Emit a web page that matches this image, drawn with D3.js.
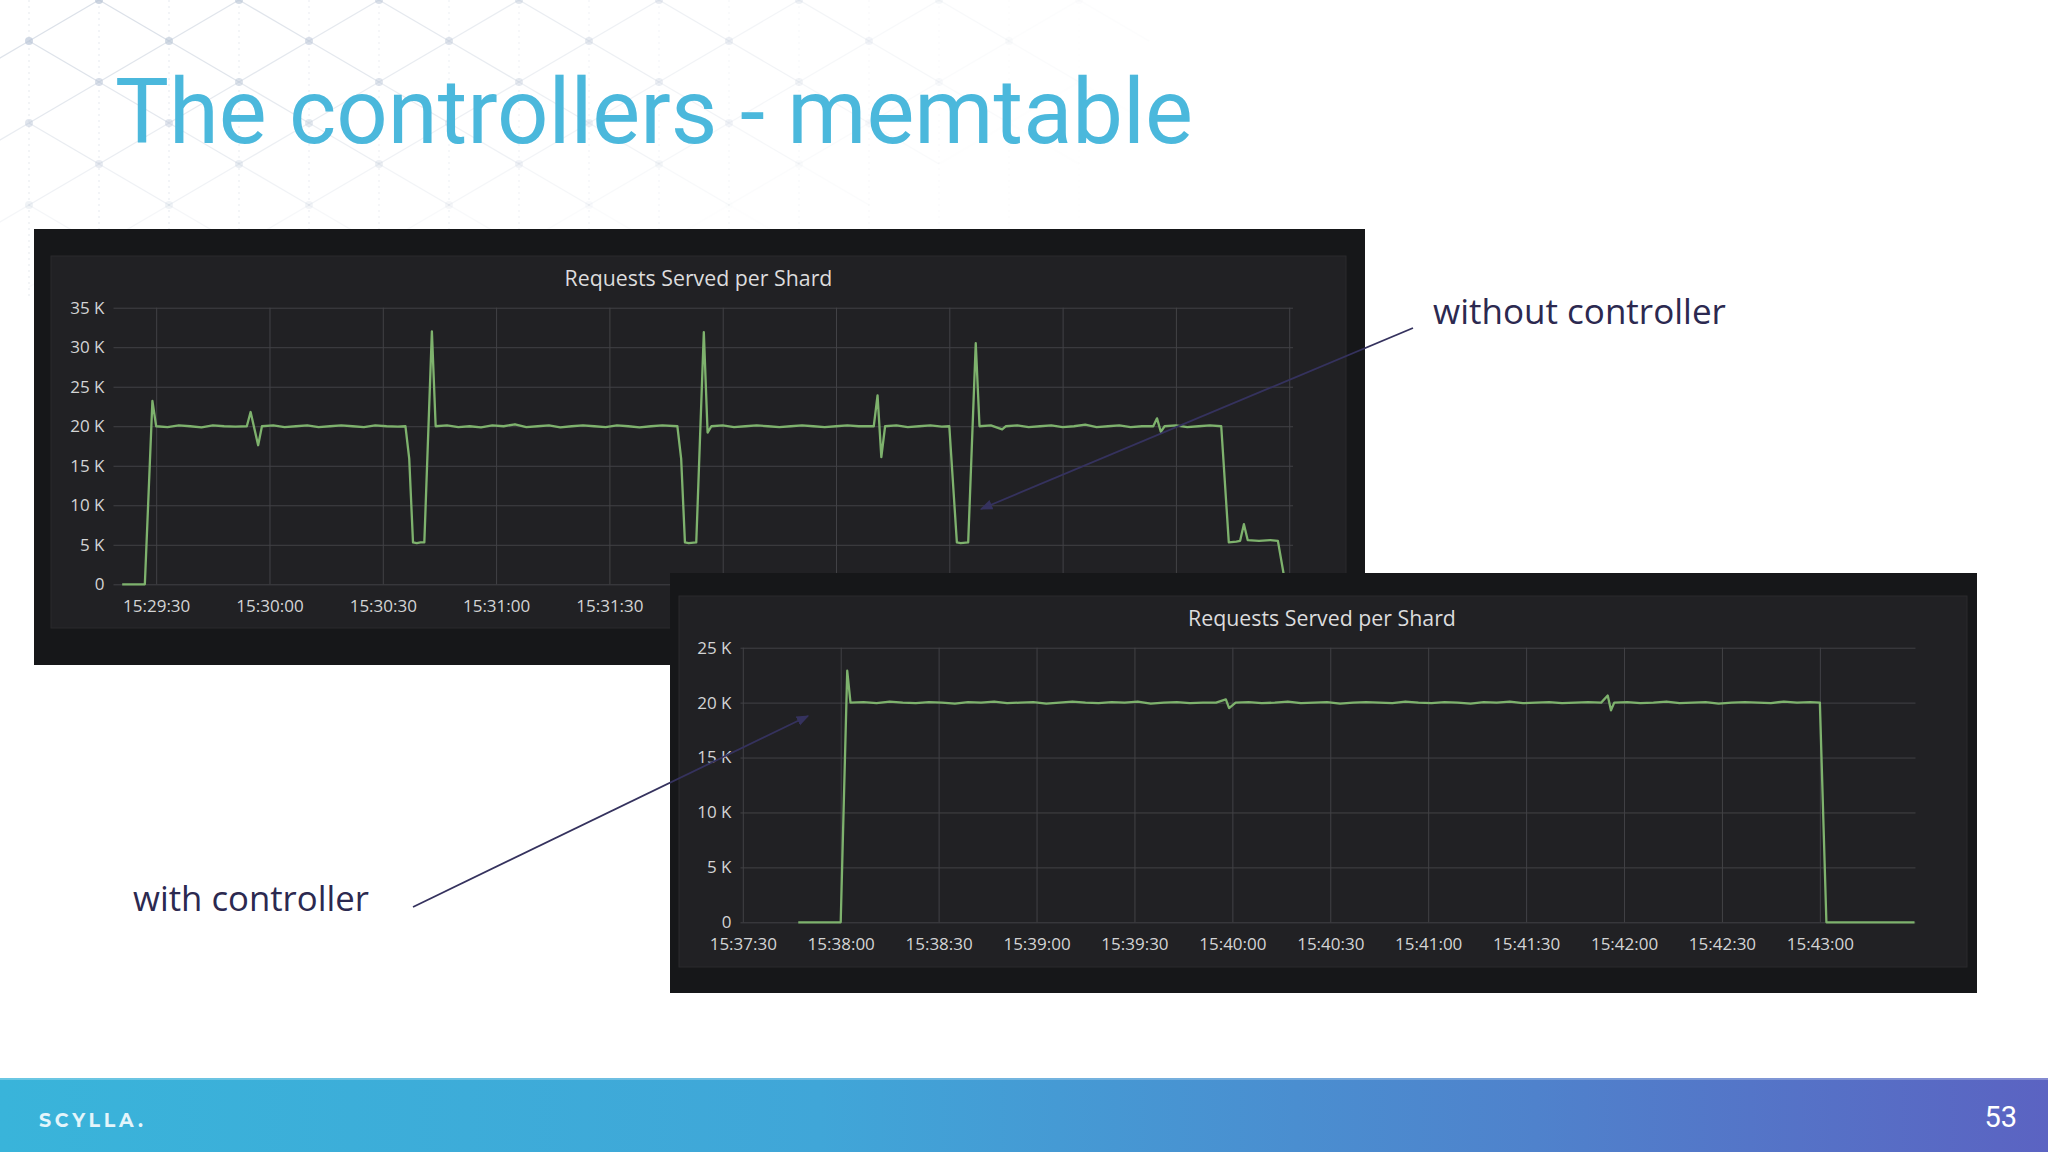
<!DOCTYPE html>
<html><head><meta charset="utf-8">
<script src="https://cdn.jsdelivr.net/npm/d3@7"></script>
<style>html,body{margin:0;padding:0;background:#fff;overflow:hidden}</style>
</head><body><svg id="c" width="2048" height="1152"></svg>
<script>
// ---------- text ----------
const slideTitle = "The controllers - memtable";
const panelTitle = "Requests Served per Shard";
const labelWithout = "without controller";
const labelWith = "with controller";
const pageNumber = "53";
const brand = "SCYLLA.";

// ---------- data: top chart (without controller) ----------
const topStart = "15:29:30"; // seconds below are offsets from this time
const topSamples = [
[-9,0],[-3,0],[-1,23200],[0,20000],[3,19900],[6,20100],[9,20000],[12,19850],[15,20100],[18,20000],[21,19950],[24,20000],
[25,21800],[27,17600],[28,20000],
[31,20100],[34,19900],[37,20000],[40,20100],[43,19900],[46,20000],[49,20100],[52,20000],[55,19900],[58,20100],[61,20000],[64,19950],[66,20000],
[67,15900],[68,5300],[69,5200],[70,5300],[71,5300],
[73,32000],[74,20000],
[77,20100],[80,19900],[83,20000],[86,19850],[89,20100],[92,20000],[95,20250],[98,19900],[101,20000],[104,20100],[107,19850],[110,20000],[113,20100],[116,20000],[119,19900],[122,20100],[125,20000],[128,19850],[131,20000],[134,20100],[138,20000],
[139,15900],[140,5300],[141,5200],[143,5300],
[145,31900],[146,19200],[147,20000],
[150,20100],[153,19900],[156,20000],[159,20100],[162,20000],[165,19900],[168,20000],[171,20100],[174,20000],[177,19900],[180,20000],[183,20100],[186,20000],[190,20000],
[191,23900],[192,16100],[193,20000],
[196,20100],[199,19900],[202,20000],[205,20100],[208,19950],[210,20000],
[212,5300],[213,5200],[215,5300],
[217,30500],[218,20000],
[221,20100],[224,19600],[225,20000],[228,20100],[231,19900],[234,20000],[237,20100],[240,19900],[243,20000],[246,20200],[249,19900],[252,20000],[255,20100],[258,19900],[261,20000],[264,20000],
[265,21000],[266,19300],[267,20000],
[270,20100],[273,19900],[276,20000],[279,20100],[282,20000],
[284,5300],[286,5400],[287,5500],[288,7600],[289,5600],[292,5500],[295,5600],[297,5500],
[299,0],[301,0]
];
const topYTicks = [0,5000,10000,15000,20000,25000,30000,35000];
// grid lines at every 30 s; only the first five labels are visible (the rest lie under the second panel)
const topXTicks = ["15:29:30","15:30:00","15:30:30","15:31:00","15:31:30","15:32:00","15:32:30","15:33:00","15:33:30","15:34:00","15:34:30"];
const topXLabels = ["15:29:30","15:30:00","15:30:30","15:31:00","15:31:30"];

// ---------- data: bottom chart (with controller) ----------
const bottomStart = "15:38:00";
const bottomSamples = [
[-13,0],[0,0],[2,22900],[3,20000],[7,20050],[11,19950],[15,20100],[19,20000],[23,19950],[27,20050],[31,20000],[35,19900],[39,20050],[43,20000],[47,20100],[51,19950],[55,20000],[59,20050],[63,19900],[67,20000],[71,20100],[75,20000],[79,19950],[83,20050],[87,20000],[91,20100],[95,19900],[99,20000],[103,20050],[107,19950],[111,20000],[115,20000],
[118,20300],[119,19500],[121,20000],
[125,20050],[129,19950],[133,20000],[137,20100],[141,19950],[145,20000],[149,20050],[153,19900],[157,20000],[161,20050],[165,20000],[169,19950],[173,20100],[177,20000],[181,19950],[185,20050],[189,20000],[193,19900],[197,20050],[201,20000],[205,20100],[209,19950],[213,20000],[217,20050],[221,19950],[225,20000],[229,20050],[233,20000],
[235,20650],[236,19300],[237,20000],
[241,20050],[245,19950],[249,20000],[253,20100],[257,19950],[261,20000],[265,20050],[269,19900],[273,20000],[277,20050],[281,20000],[285,19950],[289,20100],[293,20000],[297,20050],[300,20000],
[302,0],[329,0]
];
const bottomYTicks = [0,5000,10000,15000,20000,25000];
const bottomXTicks = ["15:37:30","15:38:00","15:38:30","15:39:00","15:39:30","15:40:00","15:40:30","15:41:00","15:41:30","15:42:00","15:42:30","15:43:00"];
const bottomXLabels = bottomXTicks;

// ---------- helpers ----------
const svg = d3.select("#c");
const parseT = d3.utcParse("%Y-%m-%d %H:%M:%S");
const fmtT = d3.utcFormat("%H:%M:%S");
const T = s => parseT("2018-06-01 " + s);
const addSec = (d, s) => new Date(d.getTime() + s * 1000);
const fmtK = v => v === 0 ? "0" : (v / 1000) + " K";
const fitWidth = (sel, w) => {
  const n = sel.node(); const cur = n.getComputedTextLength();
  const fs = parseFloat(sel.attr("font-size"));
  sel.attr("font-size", fs * w / cur);
};

const defs = svg.append("defs");
const grad = defs.append("linearGradient").attr("id", "foot").attr("x1", 0).attr("x2", 1).attr("y1", 0).attr("y2", 0);
grad.append("stop").attr("offset", 0).attr("stop-color", "#39b4da");
grad.append("stop").attr("offset", 0.4).attr("stop-color", "#40a6d8");
grad.append("stop").attr("offset", 0.75).attr("stop-color", "#4f82cc");
grad.append("stop").attr("offset", 1).attr("stop-color", "#5b63c2");
defs.append("marker").attr("id", "arr").attr("viewBox", "0 0 10 10").attr("refX", 9).attr("refY", 5)
  .attr("markerWidth", 7).attr("markerHeight", 7).attr("orient", "auto-start-reverse")
  .append("path").attr("d", "M0,1 L10,5 L0,9 z").attr("fill", "#35325e");

// ---------- background ----------
svg.append("rect").attr("width", 2048).attr("height", 1152).attr("fill", "#ffffff");
const bg = svg.append("g");
const fade = (x, y) => Math.max(0, 1 - Math.sqrt((x / 1150) ** 2 + (y / 280) ** 2));
for (let j = 0; j <= 8; j++) {
  const y = j * 41;
  const off = j % 2 ? 29 : 99;
  for (let i = 0; i < 9; i++) {
    const x = off + i * 140;
    const a = fade(x, y);
    if (a <= 0) continue;
    [[70, 41], [-70, 41]].forEach(([dx, dy]) => {
      bg.append("line").attr("x1", x).attr("y1", y).attr("x2", x + dx).attr("y2", y + dy)
        .attr("stroke", "#c4cdda").attr("stroke-width", 1.2).attr("opacity", a * 0.65);
    });
    bg.append("circle").attr("cx", x).attr("cy", y).attr("r", 4).attr("fill", "#b6c2d4").attr("opacity", a * 0.75);
  }
}
for (let i = 0; i < 16; i++) {
  const x = 29 + i * 70;
  const a = fade(x, 60);
  if (a <= 0) continue;
  bg.append("line").attr("x1", x).attr("y1", 0).attr("x2", x).attr("y2", 300)
    .attr("stroke", "#c9d1dd").attr("stroke-dasharray", "2,4").attr("opacity", a * 0.6);
}

// ---------- slide title ----------
const st = svg.append("text").attr("x", 115).attr("y", 143).attr("font-family", "Roboto")
  .attr("font-size", 90).attr("fill", "#4bb8dc").text(slideTitle);
fitWidth(st, 1078);

// ---------- panel drawing ----------
function drawPanel(cfg) {
  const g = svg.append("g");
  g.append("rect").attr("x", cfg.outer[0]).attr("y", cfg.outer[1]).attr("width", cfg.outer[2] - cfg.outer[0])
    .attr("height", cfg.outer[3] - cfg.outer[1]).attr("fill", "#161719");
  g.append("rect").attr("x", cfg.inner[0]).attr("y", cfg.inner[1]).attr("width", cfg.inner[2] - cfg.inner[0])
    .attr("height", cfg.inner[3] - cfg.inner[1]).attr("fill", "#212124").attr("stroke", "#2a2a2d");
  const base = T(cfg.start);
  const x = d3.scaleUtc().domain([addSec(base, cfg.dom[0]), addSec(base, cfg.dom[1])]).range([cfg.plot[0], cfg.plot[2]]);
  const y = d3.scaleLinear().domain([0, cfg.ymax]).range([cfg.plot[3], cfg.plot[1]]);
  const pw = cfg.plot[2] - cfg.plot[0], ph = cfg.plot[3] - cfg.plot[1];
  const shown = new Set(cfg.xLabels);

  const ya = g.append("g").attr("transform", `translate(${cfg.plot[0]},0)`)
    .call(d3.axisLeft(y).tickValues(cfg.yTicks).tickFormat(fmtK).tickSize(-pw).tickPadding(9));
  const xa = g.append("g").attr("transform", `translate(0,${cfg.plot[3]})`)
    .call(d3.axisBottom(x).tickValues(cfg.xTicks.map(T)).tickFormat(fmtT).tickSize(-ph).tickPadding(16));
  xa.selectAll(".tick text").filter(d => !shown.has(fmtT(d))).remove();
  [ya, xa].forEach(a => {
    a.select(".domain").remove();
    a.selectAll(".tick line").attr("stroke", "#424246").attr("stroke-width", 1);
    a.selectAll(".tick text").attr("fill", "#d3d4d5").attr("font-family", "Open Sans").attr("font-size", 17);
  });
  const line = d3.line().x(d => x(addSec(base, d[0]))).y(d => y(d[1]));
  g.append("path").datum(cfg.samples).attr("d", line).attr("fill", "none")
    .attr("stroke", "#7eb26d").attr("stroke-width", 2.3).attr("stroke-linejoin", "round");
  const t = g.append("text").attr("x", cfg.titleX).attr("y", cfg.titleY).attr("text-anchor", "middle")
    .attr("font-family", "Open Sans").attr("font-weight", 500).attr("font-size", 20).attr("fill", "#dcdcdd").text(panelTitle);
  fitWidth(t, 268);
}

drawPanel({
  outer: [34, 229, 1365, 665], inner: [51, 256, 1346, 628],
  plot: [113.5, 307.7, 1293, 584.3], start: topStart, dom: [-11.3, 301.0],
  ymax: 35000, yTicks: topYTicks, xTicks: topXTicks, xLabels: topXLabels, samples: topSamples,
  titleX: 698.5, titleY: 286
});

// arrow for top chart
svg.append("line").attr("x1", 1413).attr("y1", 328).attr("x2", 981).attr("y2", 509)
  .attr("stroke", "#35325e").attr("stroke-width", 1.8).attr("marker-end", "url(#arr)");

drawPanel({
  outer: [670, 573, 1977, 993], inner: [679, 596, 1967, 967],
  plot: [740.5, 647.7, 1915.5, 922.3], start: bottomStart, dom: [-30.7, 329.3],
  ymax: 25000, yTicks: bottomYTicks, xTicks: bottomXTicks, xLabels: bottomXLabels, samples: bottomSamples,
  titleX: 1322, titleY: 626
});

svg.append("line").attr("x1", 413).attr("y1", 907).attr("x2", 808).attr("y2", 716)
  .attr("stroke", "#35325e").attr("stroke-width", 1.8).attr("marker-end", "url(#arr)");

const t1 = svg.append("text").attr("x", 1433).attr("y", 324).attr("font-family", "Open Sans")
  .attr("font-size", 36).attr("fill", "#2c2950").text(labelWithout);
fitWidth(t1, 293);
const t2 = svg.append("text").attr("x", 133).attr("y", 911).attr("font-family", "Open Sans")
  .attr("font-size", 36).attr("fill", "#2c2950").text(labelWith);
fitWidth(t2, 236);

// ---------- footer ----------
svg.append("rect").attr("x", 0).attr("y", 1078).attr("width", 2048).attr("height", 74).attr("fill", "url(#foot)");
svg.append("rect").attr("x", 0).attr("y", 1078).attr("width", 2048).attr("height", 2).attr("fill", "#ffffff").attr("opacity", 0.25);
svg.append("text").attr("x", 39).attr("y", 1127).attr("font-family", "Montserrat, Lato, 'Open Sans'")
  .attr("font-weight", 700).attr("font-size", 19).attr("fill", "#e3f5fb")
  .attr("textLength", 104).attr("lengthAdjust", "spacing").text(brand);
svg.append("text").attr("x", 2017).attr("y", 1127).attr("text-anchor", "end").attr("font-family", "Roboto")
  .attr("font-size", 29).attr("fill", "#ffffff").text(pageNumber);
</script></body></html>
